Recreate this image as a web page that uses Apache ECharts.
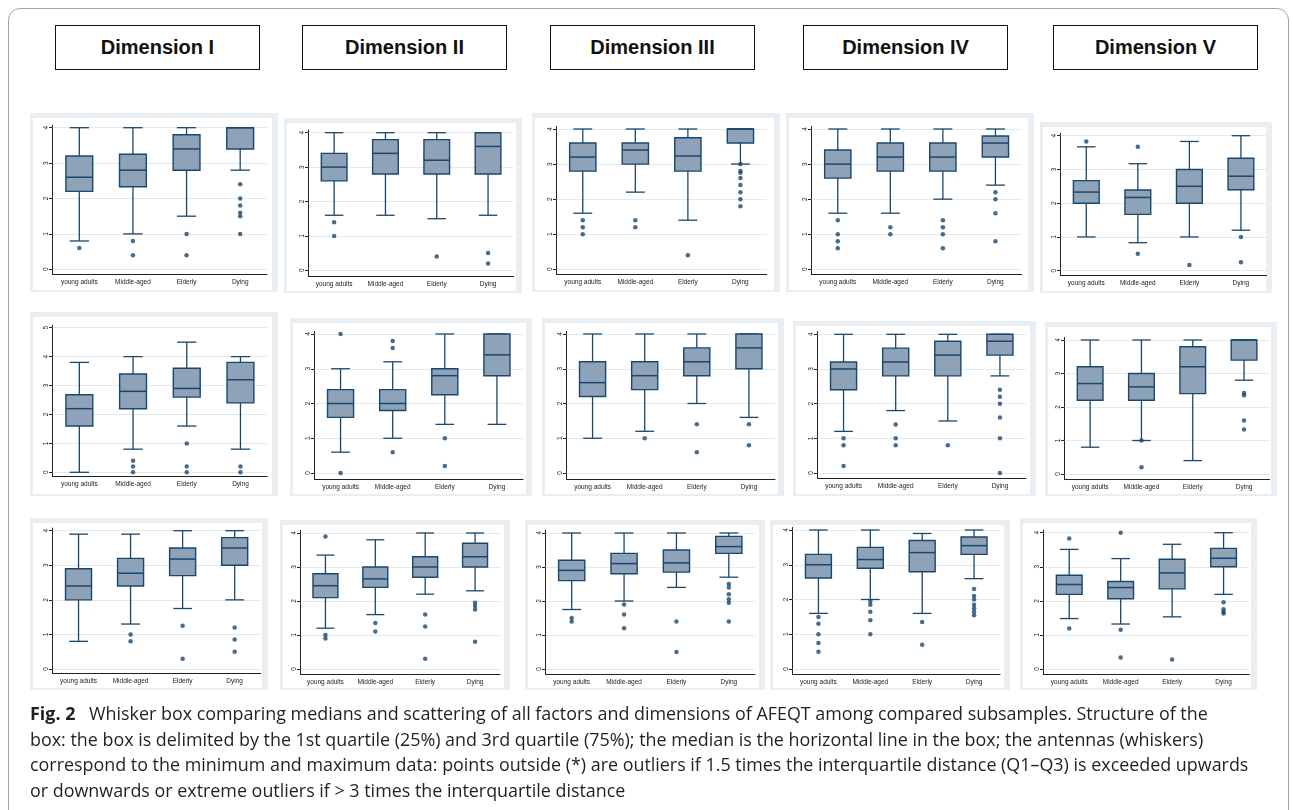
<!DOCTYPE html>
<html>
<head>
<meta charset="utf-8">
<title>AFEQT box plots</title>
<script src="https://cdn.jsdelivr.net/npm/echarts@6/dist/echarts.min.js"></script>
<style>
  html, body { margin: 0; padding: 0; background: #fff; }
  #page { position: relative; width: 1293px; height: 810px; overflow: hidden; font-family: "Liberation Sans", Arial, sans-serif; }
  .frame { position: absolute; left: 8px; top: 8px; width: 1281px; height: 900px; border: 1px solid #a3a3a3; border-radius: 12px; box-sizing: border-box; }
  .dim { position: absolute; top: 25px; width: 205px; height: 45px; border: 1px solid #111; box-sizing: border-box;
         display: flex; align-items: center; justify-content: center; font-weight: bold; font-size: 20px; color: #111; }
  .panel { position: absolute; background: #e8eef2; }
  .panel .inner { position: absolute; left: 3px; top: 5px; right: 6px; bottom: 2px; background: #fff; }
  #chart { position: absolute; left: 0; top: 0; width: 1293px; height: 810px; }
  .caption { position: absolute; left: 30px; top: 701px; font-family: "Open Sans", "Noto Sans", sans-serif; font-size: 17.9px; line-height: 25.5px; color: #231f20; white-space: nowrap; }
  .caption b { font-weight: bold; margin-right: 9px; }
</style>
</head>
<body>
<div id="page">
  <div class="frame"></div>
  <div id="panels"></div>
  <div id="heads"></div>
  <div id="chart"></div>
  <div class="caption">
    <div><b>Fig. 2</b> Whisker box comparing medians and scattering of all factors and dimensions of AFEQT among compared subsamples. Structure of the</div>
    <div>box: the box is delimited by the 1st quartile (25%) and 3rd quartile (75%); the median is the horizontal line in the box; the antennas (whiskers)</div>
    <div>correspond to the minimum and maximum data: points outside (*) are outliers if 1.5 times the interquartile distance (Q1–Q3) is exceeded upwards</div>
    <div>or downwards or extreme outliers if &gt; 3 times the interquartile distance</div>
  </div>
</div>
<script>
// Column headings and group names
const dimensions = ['Dimension I', 'Dimension II', 'Dimension III', 'Dimension IV', 'Dimension V'];
const categories = ['young adults', 'Middle-aged', 'Elderly', 'Dying'];

// Box statistics per group: [lower whisker, Q1, median, Q3, upper whisker]
// Outliers per group, in category order.
// Row 1
const d1r1Box = [[0.8, 2.2, 2.6, 3.2, 4.0], [1.0, 2.33, 2.8, 3.25, 4.0], [1.5, 2.8, 3.4, 3.8, 4.0], [2.8, 3.4, 4.0, 4.0, 4.0]];
const d1r1Out = [[0.6], [0.8, 0.4], [1.0, 0.4], [2.4, 2.0, 1.8, 1.6, 1.5, 1.0]];
const d2r1Box = [[1.6, 2.6, 3.0, 3.4, 4.0], [1.6, 2.8, 3.4, 3.8, 4.0], [1.5, 2.8, 3.2, 3.8, 4.0], [1.6, 2.8, 3.6, 4.0, 4.0]];
const d2r1Out = [[1.4, 1.0], [], [0.4], [0.5, 0.2]];
const d3r1Box = [[1.6, 2.8, 3.2, 3.6, 4.0], [2.2, 3.0, 3.4, 3.6, 4.0], [1.4, 2.8, 3.23, 3.75, 4.0], [3.0, 3.6, 4.0, 4.0, 4.0]];
const d3r1Out = [[1.4, 1.2, 1.0], [1.4, 1.2], [0.4], [3.0, 2.8, 2.75, 2.6, 2.4, 2.2, 2.0, 1.8]];
const d4r1Box = [[1.6, 2.6, 3.0, 3.4, 4.0], [1.6, 2.8, 3.2, 3.6, 4.0], [2.0, 2.8, 3.2, 3.6, 4.0], [2.4, 3.2, 3.6, 3.8, 4.0]];
const d4r1Out = [[1.4, 1.0, 0.8, 0.6], [1.2, 1.0], [1.4, 1.2, 1.0, 0.6], [2.2, 2.0, 1.6, 0.8]];
const d5r1Box = [[1.0, 2.0, 2.33, 2.67, 3.67], [0.83, 1.67, 2.17, 2.39, 3.17], [1.0, 2.0, 2.5, 3.0, 3.83], [1.2, 2.4, 2.8, 3.33, 4.0]];
const d5r1Out = [[3.83], [3.67, 0.5], [0.17], [1.0, 0.25]];
// Row 2
const d1r2Box = [[0, 1.6, 2.2, 2.68, 3.8], [0.8, 2.2, 2.8, 3.4, 4.0], [1.6, 2.6, 2.9, 3.6, 4.5], [0.8, 2.4, 3.2, 3.8, 4.0]];
const d1r2Out = [[], [0.4, 0.2, 0], [1.0, 0.2, 0], [0.2, 0]];
const d2r2Box = [[0.6, 1.6, 2.0, 2.4, 3.0], [1.0, 1.8, 2.0, 2.4, 3.2], [1.4, 2.25, 2.8, 3.0, 4.0], [1.4, 2.8, 3.4, 4.0, 4.0]];
const d2r2Out = [[4.0, 0], [3.8, 3.6, 0.6], [1.0, 0.2], []];
const d3r2Box = [[1.0, 2.2, 2.6, 3.2, 4.0], [1.2, 2.4, 2.8, 3.2, 4.0], [2.0, 2.8, 3.2, 3.6, 4.0], [1.6, 3.0, 3.6, 4.0, 4.0]];
const d3r2Out = [[], [1.0], [1.4, 0.6], [1.4, 0.8]];
const d4r2Box = [[1.2, 2.4, 3.0, 3.2, 4.0], [1.8, 2.8, 3.2, 3.6, 4.0], [1.5, 2.8, 3.4, 3.8, 4.0], [2.8, 3.4, 3.8, 4.0, 4.0]];
const d4r2Out = [[1.0, 0.8, 0.2], [1.4, 1.0, 0.8], [0.8], [2.4, 2.2, 2.0, 1.6, 1.0, 0]];
const d5r2Box = [[0.8, 2.2, 2.7, 3.2, 4.0], [1.0, 2.2, 2.6, 3.0, 4.0], [0.4, 2.4, 3.2, 3.8, 4.0], [2.8, 3.4, 4.0, 4.0, 4.0]];
const d5r2Out = [[], [1.0, 0.2], [], [2.42, 2.35, 1.6, 1.33]];
// Row 3
const d1r3Box = [[0.8, 2.0, 2.4, 2.9, 3.9], [1.3, 2.4, 2.77, 3.2, 3.9], [1.75, 2.7, 3.18, 3.5, 4.0], [2.0, 3.0, 3.5, 3.8, 4.0]];
const d1r3Out = [[], [1.0, 0.8], [1.25, 0.3], [1.2, 0.85, 0.5]];
const d2r3Box = [[1.2, 2.1, 2.45, 2.8, 3.35], [1.6, 2.4, 2.65, 3.0, 3.8], [2.2, 2.7, 3.0, 3.3, 4.0], [2.3, 3.0, 3.3, 3.7, 4.0]];
const d2r3Out = [[3.9, 1.0, 0.9], [1.35, 1.1], [1.6, 1.25, 0.3], [1.95, 1.85, 1.75, 0.8]];
const d3r3Box = [[1.75, 2.6, 2.9, 3.2, 4.0], [2.0, 2.8, 3.1, 3.4, 4.0], [2.4, 2.85, 3.12, 3.5, 4.0], [2.7, 3.4, 3.6, 3.9, 4.0]];
const d3r3Out = [[1.5, 1.4], [1.9, 1.6, 1.2], [1.4, 0.5], [2.5, 2.4, 2.2, 2.05, 1.95, 1.4]];
const d4r3Box = [[1.6, 2.62, 3.0, 3.3, 4.0], [2.0, 2.9, 3.15, 3.5, 4.0], [1.6, 2.8, 3.35, 3.7, 3.9], [2.6, 3.3, 3.55, 3.8, 4.0]];
const d4r3Out = [[1.5, 1.3, 1.0, 0.75, 0.5], [1.95, 1.85, 1.65, 1.4, 1.0], [1.35, 0.7], [2.3, 2.1, 2.0, 1.85, 1.75, 1.65, 1.55]];
const d5r3Box = [[1.48, 2.19, 2.48, 2.75, 3.51], [1.32, 2.06, 2.39, 2.57, 3.24], [1.53, 2.35, 2.82, 3.22, 3.66], [2.19, 3.0, 3.25, 3.54, 4.0]];
const d5r3Out = [[3.83, 1.19], [4.0, 1.15, 0.34], [0.28], [1.96, 1.75, 1.68, 1.63]];

const NAVY = '#1a476f';
const FILL = '#8ea2b8';

// Panel layout: outer frame [x, y, w, h]; ax = y-axis x, top = y of axis max,
// right = plot right edge, y0 = y of value 0, axY = x-axis line y.
const panels = [
  { box: d1r1Box, out: d1r1Out, max: 4, frame: [30, 113, 248, 179], ax: 52.5, top: 127.7, right: 267, y0: 269.3, axY: 274.5 },
  { box: d2r1Box, out: d2r1Out, max: 4, frame: [284, 118, 238, 175], ax: 308.5, top: 132.7, right: 513.7, y0: 270.3, axY: 276.5 },
  { box: d3r1Box, out: d3r1Out, max: 4, frame: [532, 113, 248, 179], ax: 556.5, top: 129, right: 766.7, y0: 269.3, axY: 274.5 },
  { box: d4r1Box, out: d4r1Out, max: 4, frame: [786, 113, 248, 179], ax: 811.5, top: 129, right: 1021.7, y0: 269.3, axY: 274.5 },
  { box: d5r1Box, out: d5r1Out, max: 4, frame: [1040, 122, 232, 171], ax: 1060.5, top: 135.7, right: 1266.7, y0: 270.7, axY: 275.5 },

  { box: d1r2Box, out: d1r2Out, max: 5, frame: [30, 312, 248, 184], ax: 52.5, top: 327.7, right: 267.3, y0: 472.3, axY: 476.5 },
  { box: d2r2Box, out: d2r2Out, max: 4, frame: [290, 318, 242, 178], ax: 314.5, top: 334, right: 523, y0: 473, axY: 479.5 },
  { box: d3r2Box, out: d3r2Out, max: 4, frame: [542, 318, 242, 178], ax: 566.5, top: 334, right: 775, y0: 473, axY: 479.5 },
  { box: d4r2Box, out: d4r2Out, max: 4, frame: [793, 321, 243, 175], ax: 817.5, top: 334.3, right: 1026, y0: 473, axY: 478.5 },
  { box: d5r2Box, out: d5r2Out, max: 4, frame: [1045, 322, 232, 174], ax: 1064.5, top: 340, right: 1269.7, y0: 474, axY: 479.5 },

  { box: d1r3Box, out: d1r3Out, max: 4, frame: [30, 518, 238, 172], ax: 52.5, top: 530.7, right: 260.7, y0: 669, axY: 673.5 },
  { box: d2r3Box, out: d2r3Out, max: 4, frame: [280, 520, 230, 170], ax: 300.5, top: 533, right: 500, y0: 669, axY: 674.5 },
  { box: d3r3Box, out: d3r3Out, max: 4, frame: [525, 520, 240, 170], ax: 545.5, top: 533, right: 755, y0: 669, axY: 674.5 },
  { box: d4r3Box, out: d4r3Out, max: 4, frame: [770, 520, 240, 170], ax: 792.5, top: 530, right: 1000, y0: 669, axY: 674.5 },
  { box: d5r3Box, out: d5r3Out, max: 4, frame: [1020, 518, 237, 172], ax: 1043.5, top: 532.7, right: 1249.3, y0: 669, axY: 674.5 }
];

// Column header boxes
const headLeft = [55, 302, 550, 803, 1053];
const heads = document.getElementById('heads');
dimensions.forEach((d, i) => {
  const el = document.createElement('div');
  el.className = 'dim';
  el.style.left = headLeft[i] + 'px';
  el.textContent = d;
  heads.appendChild(el);
});

// Gray panel backgrounds with white plot regions
const panelHost = document.getElementById('panels');
panels.forEach(p => {
  const el = document.createElement('div');
  el.className = 'panel';
  el.style.left = p.frame[0] + 'px';
  el.style.top = p.frame[1] + 'px';
  el.style.width = p.frame[2] + 'px';
  el.style.height = p.frame[3] + 'px';
  const inner = document.createElement('div');
  inner.className = 'inner';
  el.appendChild(inner);
  panelHost.appendChild(el);
});

// Box, whiskers with short caps, and median line
function renderBox(params, api) {
  const k = api.value(0);
  const lo = api.coord([k, api.value(1)]);
  const q1 = api.coord([k, api.value(2)]);
  const md = api.coord([k, api.value(3)]);
  const q3 = api.coord([k, api.value(4)]);
  const hi = api.coord([k, api.value(5)]);
  const band = api.size([1, 0])[0];
  const bw = band * 0.5, cw = band * 0.36, cx = md[0];
  const seg = (x1, y1, x2, y2, w) => ({
    type: 'line', shape: { x1, y1, x2, y2 },
    style: { stroke: NAVY, lineWidth: w || 1.3 }
  });
  return {
    type: 'group',
    children: [
      seg(cx, q3[1], cx, hi[1]),
      seg(cx, q1[1], cx, lo[1]),
      seg(cx - cw / 2, hi[1], cx + cw / 2, hi[1]),
      seg(cx - cw / 2, lo[1], cx + cw / 2, lo[1]),
      { type: 'rect', shape: { x: cx - bw / 2, y: q3[1], width: bw, height: q1[1] - q3[1] },
        style: { fill: FILL, stroke: NAVY, lineWidth: 1.4 } },
      seg(cx - bw / 2, md[1], cx + bw / 2, md[1], 1.5)
    ]
  };
}

const grid = [], xAxis = [], yAxis = [], series = [], graphic = [];
panels.forEach((p, i) => {
  grid.push({ left: p.ax, top: p.top, width: p.right - p.ax, height: p.y0 - p.top });
  xAxis.push({
    type: 'category', gridIndex: i, data: categories, boundaryGap: true,
    offset: p.axY - p.y0,
    axisLine: { onZero: false, lineStyle: { color: '#222', width: 1 } },
    axisTick: { show: false },
    axisLabel: { fontSize: 6.5, color: '#222', margin: 4, interval: 0, fontFamily: 'Liberation Sans' },
    splitLine: { show: false }
  });
  yAxis.push({
    type: 'value', gridIndex: i, min: 0, max: p.max, interval: 1,
    axisLine: { show: false },
    axisTick: { show: true, length: 3.5, lineStyle: { color: '#222' } },
    axisLabel: { rotate: 90, fontSize: 6.5, color: '#222', margin: 3, fontFamily: 'Liberation Sans' },
    splitLine: { show: true, lineStyle: { color: '#e3eaed', width: 1 } }
  });
  // y-axis line running from just above the top tick down to the x-axis
  graphic.push({
    type: 'line', silent: true,
    shape: { x1: p.ax, y1: p.top - 3, x2: p.ax, y2: p.axY },
    style: { stroke: '#222', lineWidth: 1 }
  });
  series.push({
    type: 'custom', xAxisIndex: i, yAxisIndex: i,
    data: p.box.map((b, k) => [k].concat(b)),
    encode: { x: 0, y: [1, 2, 3, 4, 5] },
    renderItem: renderBox, z: 2
  });
  const pts = [];
  p.out.forEach((vals, k) => vals.forEach(v => pts.push([k, v])));
  series.push({
    type: 'scatter', xAxisIndex: i, yAxisIndex: i, data: pts,
    symbol: 'circle', symbolSize: 4.5,
    itemStyle: { color: NAVY }, z: 3
  });
});

const chart = echarts.init(document.getElementById('chart'), null, { renderer: 'canvas' });
chart.setOption({
  animation: false,
  backgroundColor: 'transparent',
  grid, xAxis, yAxis, series, graphic
});
</script>
</body>
</html>
